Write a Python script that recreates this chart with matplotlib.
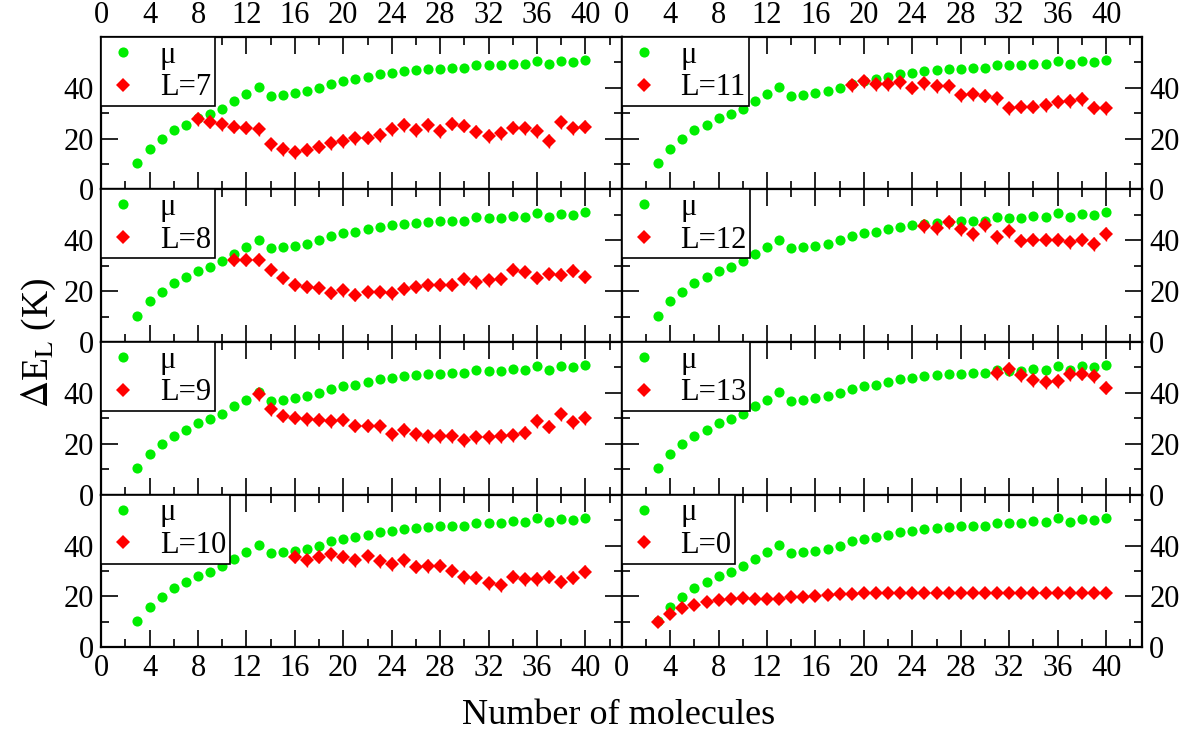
"""
Energy gap Delta E_L vs number of molecules, one panel per L,
each panel compared against the chemical potential mu.
"""

import matplotlib
matplotlib.use("Agg")
import matplotlib.pyplot as plt
from matplotlib.ticker import FixedLocator

plt.rcParams["font.family"] = ["Liberation Serif", "DejaVu Serif"]
plt.rcParams["mathtext.fontset"] = "stix"

# chemical potential, N = 3..40 (same in every panel)
mu_n = list(range(3, 41))
mu = [10.3, 16.0, 19.8, 23.2, 25.5, 28.0, 29.6, 31.8, 34.8, 37.4,
      40.2, 36.9, 37.3, 37.9, 38.7, 40.0, 41.6, 42.7, 43.3, 44.3,
      45.4, 45.9, 46.5, 47.0, 47.4, 47.5, 47.8, 47.8, 49.0, 48.8,
      48.8, 49.5, 49.2, 50.7, 49.2, 50.5, 50.1, 51.0]

# Delta E_L series: first N, values
L7_start = 8
L7 = [27.7, 26.7, 25.6, 24.7, 24.3, 23.7, 17.8, 15.9, 14.6, 15.6,
      16.9, 18.2, 19.1, 20.1, 20.4, 21.4, 23.8, 25.4, 23.4, 25.4,
      23.0, 25.9, 25.1, 22.7, 21.0, 22.1, 24.3, 24.1, 23.0, 19.1,
      26.4, 24.1, 24.7]
L8_start = 11
L8 = [32.4, 32.4, 32.4, 28.5, 25.2, 22.6, 21.6, 21.3, 19.3, 20.3,
      18.7, 19.7, 19.7, 19.1, 21.0, 21.6, 22.4, 22.6, 22.6, 24.8,
      23.5, 24.3, 24.8, 28.5, 27.6, 25.2, 26.8, 26.5, 28.1, 25.6]
L9_start = 13
L9 = [39.5, 33.6, 31.0, 30.3, 29.7, 29.4, 28.8, 29.4, 27.1, 27.1,
      26.8, 23.8, 25.4, 23.8, 22.9, 23.1, 23.1, 21.4, 22.5, 22.7,
      23.1, 23.4, 24.4, 29.0, 26.7, 31.6, 28.4, 30.1]
L10_start = 16
L10 = [35.6, 34.2, 35.6, 36.5, 35.6, 34.2, 35.8, 33.9, 32.7, 34.2,
       31.6, 31.9, 32.0, 30.1, 27.5, 27.3, 25.1, 24.4, 27.7, 26.7,
       26.8, 27.7, 25.8, 27.3, 29.7]
L11_start = 19
L11 = [41.0, 42.6, 41.3, 41.3, 42.1, 40.1, 41.7, 40.7, 40.7, 37.1,
       37.5, 36.9, 35.8, 31.9, 32.5, 32.5, 33.2, 34.5, 34.8, 35.6,
       32.2, 31.9]
L12_start = 25
L12 = [45.5, 44.8, 47.2, 44.4, 42.5, 45.9, 41.2, 43.8, 39.9, 40.3,
       40.3, 40.3, 39.2, 40.3, 38.6, 42.5]
L13_start = 31
L13 = [47.7, 49.3, 47.1, 45.0, 44.4, 44.7, 47.3, 47.6, 46.7, 42.1]
L0_start = 3
L0 = [9.8, 13.1, 15.3, 16.6, 17.6, 18.6, 19.0, 19.2, 19.0, 19.0,
      19.0, 19.6, 19.9, 20.1, 20.5, 20.8, 20.9, 21.2, 21.2, 21.2,
      21.2, 21.2, 21.2, 21.2, 21.2, 21.2, 21.2, 21.2, 21.2, 21.2,
      21.2, 21.2, 21.2, 21.2, 21.2, 21.2, 21.2, 21.2]

# error bar size per panel (K)
errs = {"L=7": 2.6, "L=8": 2.5, "L=9": 2.6, "L=10": 2.6,
        "L=11": 2.6, "L=12": 2.7, "L=13": 2.7, "L=0": 0.0}

# column-major order: left column L=7..10, right column L=11,12,13,0
panels = [
    ("L=7", L7_start, L7),
    ("L=8", L8_start, L8),
    ("L=9", L9_start, L9),
    ("L=10", L10_start, L10),
    ("L=11", L11_start, L11),
    ("L=12", L12_start, L12),
    ("L=13", L13_start, L13),
    ("L=0", L0_start, L0),
]

GREEN = "#00ee00"
RED = "#ff0000"


def main():
    fig, axes = plt.subplots(4, 2, figsize=(11.9, 7.38), dpi=100,
                             sharex=True, sharey=True)
    fig.subplots_adjust(left=0.085, right=0.96, top=0.95, bottom=0.123,
                        hspace=0, wspace=0)

    for i, (label, start, vals) in enumerate(panels):
        col, row = divmod(i, 4)
        ax = axes[row, col]
        xs = list(range(start, start + len(vals)))

        mu_line, = ax.plot(mu_n, mu, "o", color=GREEN, ms=7.3, mew=0,
                           zorder=2)
        eb = ax.errorbar(xs, vals, yerr=errs[label], fmt="D", color=RED,
                         ms=6.8, mew=0, ecolor=RED, elinewidth=1,
                         capsize=6, capthick=1, zorder=3)

        ax.set_xlim(0, 43)
        ax.set_ylim(0, 60)
        ax.xaxis.set_major_locator(FixedLocator(range(0, 41, 4)))
        ax.xaxis.set_minor_locator(FixedLocator(range(2, 43, 4)))
        ax.yaxis.set_major_locator(FixedLocator([0, 20, 40]))
        ax.yaxis.set_minor_locator(FixedLocator([10, 30, 50]))
        ax.tick_params(which="both", direction="in", top=True, right=True,
                       width=1.2, labelsize=22)
        ax.tick_params(which="major", length=12, pad=5)
        ax.tick_params(which="minor", length=6)
        ax.tick_params(labelbottom=(row == 3), labeltop=(row == 0),
                       labelleft=(col == 0), labelright=(col == 1))
        for sp in ax.spines.values():
            sp.set_linewidth(1.6)

        leg = ax.legend([mu_line, eb.lines[0]], ["μ", label],
                        loc="upper left", bbox_to_anchor=(0, 1),
                        borderaxespad=0, fontsize=22, fancybox=False,
                        framealpha=1, edgecolor="black", numpoints=1,
                        handlelength=1.2, handletextpad=0.6,
                        labelspacing=0.12, borderpad=0.12)
        leg.get_frame().set_linewidth(1.2)
        leg.set_zorder(5)

    fig.text(0.52, 0.03, "Number of molecules", ha="center", va="center",
             fontsize=26)
    fig.text(0.033, 0.535, r"$\Delta$E$_{\rm L}$ (K)", ha="center",
             va="center", rotation=90, fontsize=27)

    fig.savefig("out.png", dpi=100)


if __name__ == "__main__":
    main()
